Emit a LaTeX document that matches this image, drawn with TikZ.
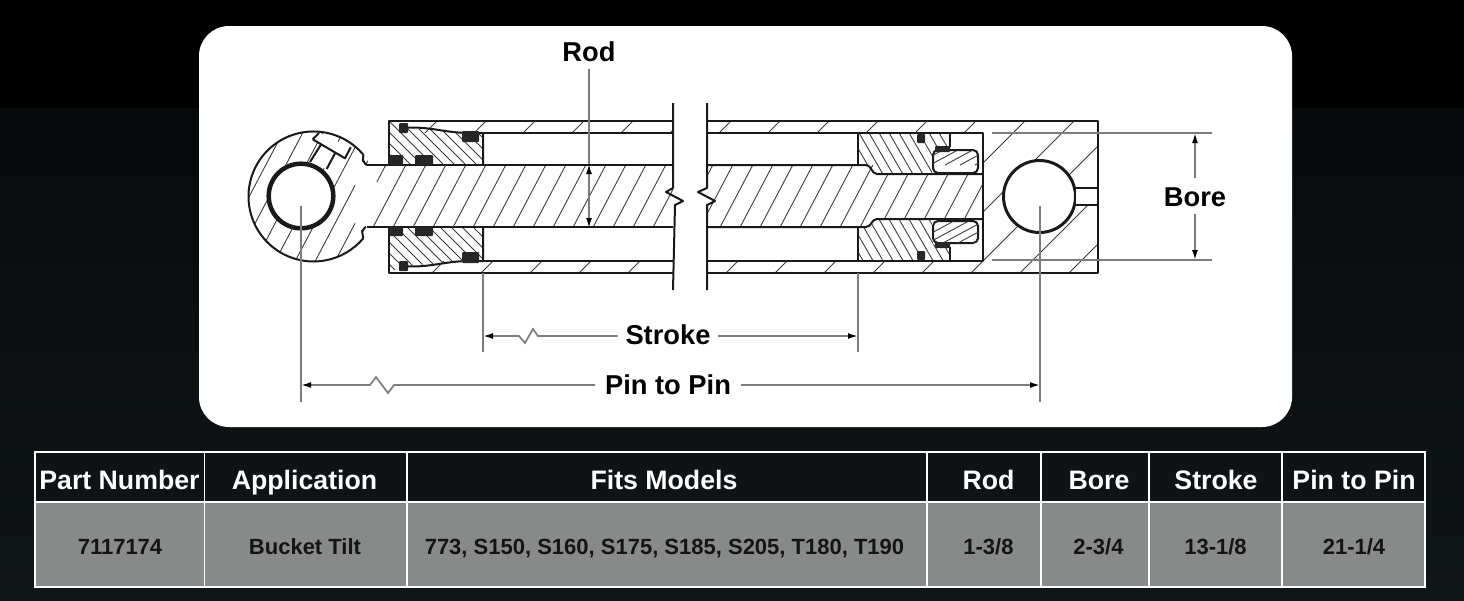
\documentclass[tikz,border=0pt]{standalone}
\usepackage{fontspec}
\setmainfont{Liberation Sans}
\usetikzlibrary{arrows.meta}
\definecolor{backtop}{RGB}{7,10,10}
\definecolor{darkback}{RGB}{16,21,23}
\definecolor{headfill}{RGB}{15,19,21}
\definecolor{rowgrey}{RGB}{136,138,138}
\definecolor{dimgrey}{RGB}{125,125,125}
\definecolor{inkline}{RGB}{25,25,25}
\def\rad{65}
\def\tip{Latex[black,length=10pt,width=6pt]}
\tikzstyle{part}=[draw=inkline,line width=2pt,line join=round]
\tikzstyle{hatch}=[draw=inkline!85,line width=0.9pt]
\tikzstyle{seal}=[fill=black!85,draw=none,rounded corners=1pt]
\tikzstyle{dimline}=[draw=dimgrey,line width=1.7pt]
\tikzstyle{dimarrow}=[dimline,-{\tip}]
\tikzstyle{dimlabel}=[font=\fontsize{27.3}{27.3}\selectfont\bfseries,text=black,inner sep=0pt,
                      text height=20pt,text depth=0pt,outer sep=8pt]
\tikzstyle{headtext}=[font=\fontsize{26.7}{26.7}\selectfont\bfseries,text=white,inner sep=0pt,
                      text height=20pt,text depth=0pt]
\tikzstyle{datatext}=[font=\fontsize{22}{22}\selectfont\bfseries,text=black!92,inner sep=0pt,
                      text height=16pt,text depth=0pt]
\begin{document}
\begin{tikzpicture}[x=1pt,y=-1pt]
  \useasboundingbox (0,0) rectangle (1464,600);
  % background
  \fill[black] (0,0) rectangle (1464,108);
  \shade[top color=backtop,bottom color=darkback] (0,108) rectangle (1464,600);
  \fill[white,rounded corners=30pt] (199,26) rectangle (1292,427);

  % hatching of the eye and the rod
  \begin{scope}
    \clip (313.5,196.5) circle (\rad) (355,165) rectangle (673,227);
    \foreach \hx in {240,260,...,860} {\draw[hatch] (\hx,100) -- ++(-100,190);}
  \end{scope}
  \begin{scope}
    \clip (707,165) rectangle (875,227) (875,174) rectangle (983,219);
    \foreach \hx in {707,727,...,1180} {\draw[hatch] (\hx,100) -- ++(-100,190);}
  \end{scope}
  % hatching of the barrel walls and the end block
  \begin{scope}
    \clip (403,121) rectangle (673,133) (403,261) rectangle (673,273)
          (707,121) rectangle (1098,133) (707,261) rectangle (1098,273)
          (983,121) rectangle (1098,273);
    \foreach \hx in {458,507,...,1400} {\draw[hatch] (\hx,100) -- ++(-190,190);}
  \end{scope}
  % hatching of the glands
  \begin{scope}
    \clip (389,121) -- (403,128) -- (470,133) -- (483,133) -- (483,165) -- (389,165) -- cycle
          (389,273) -- (403,266) -- (470,261) -- (483,261) -- (483,227) -- (389,227) -- cycle;
    \foreach \hx in {203,214,...,500} {\draw[hatch] (\hx,100) -- ++(190,190);}
  \end{scope}
  % hatching of the pistons
  \begin{scope}
    \clip (858,133) -- (950,133) -- (950,147) -- (933,150) -- (932,173) -- (875,173) -- (870,165) -- (858,165) -- cycle
          (858,261) -- (950,261) -- (950,247) -- (933,244) -- (932,219) -- (875,219) -- (870,227) -- (858,227) -- cycle;
    \foreach \hx in {760,770,...,960} {\draw[hatch] (\hx,100) -- ++(110,190);}
  \end{scope}

  % pin eye
  \fill[white] (301,196) circle (33);
  \draw[part] (363.3,154.7) arc[start angle=-40,end angle=-320,radius=\rad];
  \draw[part] (363.3,154.7) -- (363,161) to[out=90,in=180] (367,165);
  \draw[part] (363.3,238.3) -- (362,231) to[out=-90,in=180] (366,227);
  \fill[white] (312.7,139.3) -- (319,133) -- (350.7,147.3) -- (345,158.3) -- cycle
               (310,161.7) -- (320.7,145) -- (335,153.3) -- (326.7,169.3) -- cycle;
  \draw[part] (310,162) -- (320.7,145) (326.7,169) -- (335,153.3)
              (312.7,139.3) -- (345,158.3) -- (350.7,147.3) (312.7,139.3) -- (319,133);
  \draw[line width=4.5pt,draw=black!90] (301,196) circle (32.3);

  % rod
  \draw[part] (367,165) -- (673,165) (367,227) -- (673,227);
  \draw[part] (707,165) -- (866,165) to[out=0,in=180] (877,174) -- (983,174);
  \draw[part] (707,227) -- (866,227) to[out=0,in=180] (877,219) -- (983,219);

  % barrel
  \draw[part] (673,121) -- (389,121) -- (389,165) (389,227) -- (389,273) -- (673,273);
  \draw[part] (707,121) -- (1098,121) -- (1098,273) -- (707,273);
  \draw[part] (483,133) -- (673,133) (483,261) -- (673,261);
  \draw[part] (707,133) -- (983,133) -- (983,261) -- (707,261);
  \draw[part] (403,128) to[out=5,in=180] (470,133) -- (483,133) -- (483,165);
  \draw[part] (403,266) to[out=-5,in=180] (470,261) -- (483,261) -- (483,227);
  \fill[seal] (399,123) rectangle (408,133) (399,261) rectangle (408,271)
              (462,131) rectangle (479,142) (462,252) rectangle (479,263)
              (389,155) rectangle (403,165) (389,227) rectangle (403,236)
              (415,155) rectangle (433,165) (415,227) rectangle (433,236);

  % piston
  \draw[part] (858,133) -- (858,165) (858,227) -- (858,261);
  \draw[part] (950,133) -- (950,147) (950,261) -- (950,247);
  \draw[part,fill=white,rounded corners=5pt] (933,150) -- (978,150) -- (978,173) -- (933,173) -- cycle;
  \draw[part,fill=white,rounded corners=5pt] (933,221) -- (978,221) -- (978,243) -- (933,243) -- cycle;
  \begin{scope}
    \clip (933,150) rectangle (978,173) (933,221) rectangle (978,243);
    \foreach \hx in {920,935,...,1050} {\draw[hatch] (\hx,130) -- ++(-65,35);}
    \foreach \hx in {920,935,...,1050} {\draw[hatch] (\hx,215) -- ++(-65,35);}
  \end{scope}
  \fill[seal] (917,134) rectangle (925,143) (917,251) rectangle (925,260)
              (935,146) rectangle (950,152) (935,242) rectangle (950,248);

  % end block pin
  \fill[white] (1039.5,196.5) circle (36);
  \draw[part,line width=3pt] (1039.5,196.5) circle (36);
  \fill[white] (1076,188) rectangle (1097,205);
  \draw[part] (1075,188) -- (1098,188) (1075,205) -- (1098,205);

  % broken section
  \fill[white] (674,100) rectangle (706,292);
  \draw[part] (673,103) -- (673,188) -- (666,192) -- (683,201) -- (675,205) -- (673,290);
  \draw[part] (707,103) -- (707,188) -- (698,192) -- (715,201) -- (707,205) -- (707,290);

  % dimensions
  \node[dimlabel] (rodlabel) at (589,51) {Rod};
  \coordinate (rodtop) at (589,164);
  \coordinate (rodbot) at (589,228);
  \coordinate (rodmid) at (589,195);
  \draw[dimline] (rodlabel) -- (rodtop);
  \draw[dimarrow] (rodmid) -- (rodtop);
  \draw[dimarrow] (rodmid) -- (rodbot);

  \node[dimlabel] (borelabel) at (1195,196) {Bore};
  \coordinate (boretop) at (1195,133);
  \coordinate (borebot) at (1195,260);
  \draw[dimarrow] (borelabel) -- (boretop);
  \draw[dimarrow] (borelabel) -- (borebot);
  \draw[dimline] (992,133) -- (1212,133) (992,260) -- (1212,260);

  \node[dimlabel] (strokelabel) at (668,334) {Stroke};
  \coordinate (strokeleft) at (483,336);
  \coordinate (strokeright) at (858,336);
  \draw[dimline,{\tip}-] (strokeleft) -- (519,336) -- (525,343) -- (533,329) -- (538,336) -- (strokelabel.west |- strokeleft);
  \draw[dimarrow] (strokelabel.east |- strokeright) -- (strokeright);
  \draw[dimline] (483,273) -- (483,352) (858,273) -- (858,352);

  \node[dimlabel,outer sep=10pt] (pinlabel) at (668,384) {Pin to Pin};
  \coordinate (pinleft) at (301,385);
  \coordinate (pinright) at (1040,385);
  \draw[dimline,{\tip}-] (pinleft) -- (370,385) -- (376,377) -- (388,393) -- (394,385) -- (pinlabel.west |- pinleft);
  \draw[dimarrow] (pinlabel.east |- pinright) -- (pinright);
  \draw[dimline] (301,206) -- (301,402) (1040,206) -- (1040,402);

  % table
  \fill[headfill] (35,452) rectangle (1425,502);
  \fill[rowgrey] (35,502) rectangle (1425,587);
  \draw[white,line width=1.6pt] (35,452) rectangle (1425,587) (35,502) -- (1425,502)
    (204.5,452) -- (204.5,587) (407,452) -- (407,587) (927,452) -- (927,587)
    (1041,452) -- (1041,587) (1149,452) -- (1149,587) (1282,452) -- (1282,587);

  \node[headtext] (hpart) at (119.5,479.5) {Part Number};
  \node[headtext] (happ) at (304.5,479.5) {Application};
  \node[headtext] (hfits) at (664,479.5) {Fits Models};
  \node[headtext] (hrod) at (988.5,479.5) {Rod};
  \node[headtext] (hbore) at (1099,479.5) {Bore};
  \node[headtext] (hstroke) at (1216,479.5) {Stroke};
  \node[headtext] (hpin) at (1354,479.5) {Pin to Pin};

  \node[datatext] (dpart) at (120,546) {7117174};
  \node[datatext] (dapp) at (305,546) {Bucket Tilt};
  \node[datatext] (dfits) at (664.5,546) {773, S150, S160, S175, S185, S205, T180, T190};
  \node[datatext] (drod) at (988.5,546) {1-3/8};
  \node[datatext] (dbore) at (1098.5,546) {2-3/4};
  \node[datatext] (dstroke) at (1215.5,546) {13-1/8};
  \node[datatext] (dpin) at (1354,546) {21-1/4};
\end{tikzpicture}
\end{document}
